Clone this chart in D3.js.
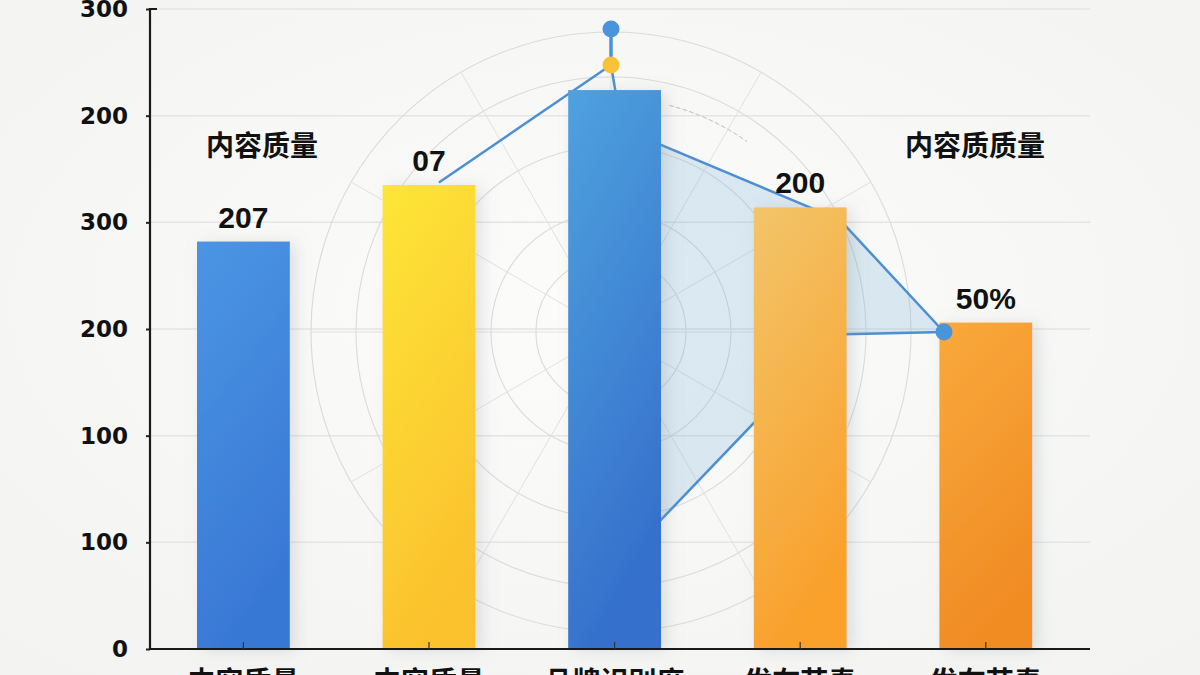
<!DOCTYPE html>
<html><head><meta charset="utf-8">
<script src="https://cdn.jsdelivr.net/npm/d3@7"></script>
<style>html,body{margin:0;padding:0;background:#f6f6f4;}svg{display:block;}</style>
</head><body>
<svg id="c" width="1200" height="675"></svg>
<script>
// ---- data ----
const categories = ["内容质量", "内容质量", "品牌识别度", "发布节奏", "发布节奏"];
const barValues = [382, 435, 524, 414, 306];
const barLabels = ["207", "07", "", "200", "50%"];
const yTickValues = [0, 100, 200, 300, 400, 500, 600];
const yTickLabels = ["0", "100", "100", "200", "300", "200", "300"];
const radarAngles = [-49, 0, 3, 64, 90, 91, 107, 180];
const radarValues = [76, 89, 68, 85, 111, 63, 62, 80];
const markerAngles = [0, 0, 90];
const markerValues = [101, 89, 111];
const gridLevels = [25, 40, 62, 85, 100];
const spokeAngles = d3.range(0, 360, 30);
const topTitle = "品牌识别度";
const sideTitles = ["内容质量", "内容质质量"];

const svg = d3.select("#c");
const W = 1200, H = 675;
const defs = svg.append("defs");

// background
const bg = defs.append("radialGradient").attr("id", "bg").attr("cx", "50%").attr("cy", "45%").attr("r", "70%");
bg.append("stop").attr("offset", "0%").attr("stop-color", "#fcfcfb");
bg.append("stop").attr("offset", "100%").attr("stop-color", "#f3f4f2");
svg.append("rect").attr("width", W).attr("height", H).attr("fill", "url(#bg)");

const x = d3.scaleBand().domain(d3.range(categories.length)).range([150.6, 1078.6]).paddingInner(0.5).paddingOuter(0.25);
const y = d3.scaleLinear().domain([0, 600]).range([649, 9]);
const axisX0 = 150, axisX1 = 1090;

// horizontal grid
svg.append("g").selectAll("line").data(yTickValues.slice(1)).join("line")
  .attr("x1", axisX0).attr("x2", axisX1).attr("y1", d => y(d)).attr("y2", d => y(d))
  .attr("stroke", "#e4e5e4").attr("stroke-width", 1.5);

// radar
const cx = 611, cy = 332;
const r = d3.scaleLinear().domain([0, 100]).range([0, 300]);
const rg = svg.append("g").attr("transform", `translate(${cx},${cy})`);
rg.selectAll("circle.g").data(gridLevels).join("circle")
  .attr("r", d => r(d)).attr("fill", "none").attr("stroke", "#dadbda").attr("stroke-width", 1.1);
rg.selectAll("line.s").data(spokeAngles).join("line")
  .attr("x1", 0).attr("y1", 0)
  .attr("x2", d => r(100) * Math.sin(d * Math.PI / 180))
  .attr("y2", d => -r(100) * Math.cos(d * Math.PI / 180))
  .attr("stroke", "#e0e1e0").attr("stroke-width", 1);
// dashed segment
rg.append("path").attr("d", d3.arc()({innerRadius: r(78), outerRadius: r(78), startAngle: 0.25, endAngle: 0.62}))
  .attr("fill", "none").attr("stroke", "#c9cbcb").attr("stroke-dasharray", "4,3");

const radarPts = radarAngles.map((a, i) => [a * Math.PI / 180, r(radarValues[i])]);
// fill (closed over the visible right-hand part) and the open outline
rg.append("path").attr("d", d3.lineRadial().curve(d3.curveLinearClosed)(radarPts.slice(2)))
  .attr("fill", "#6aaad6").attr("fill-opacity", 0.22).attr("stroke", "none");
rg.append("path").attr("d", d3.lineRadial()(radarPts))
  .attr("fill", "none").attr("stroke", "#4d8fd3").attr("stroke-width", 2.5).attr("stroke-linejoin", "round");

// bars
const barColors = [["#4b96e3", "#3978d5"], ["#fde637", "#fbc22e"], ["#4fa2de", "#3570cc"], ["#f2c56a", "#f9a12c"], ["#f9a93b", "#f08c24"]];
barColors.forEach((c, i) => {
  const g = defs.append("linearGradient").attr("id", "b" + i).attr("x1", 0).attr("y1", 0).attr("x2", 0.3).attr("y2", 1);
  g.append("stop").attr("offset", "0%").attr("stop-color", c[0]);
  g.append("stop").attr("offset", "100%").attr("stop-color", c[1]);
});
const sh = defs.append("filter").attr("id", "sh").attr("x", "-30%").attr("y", "-10%").attr("width", "160%").attr("height", "120%");
sh.append("feDropShadow").attr("dx", 6).attr("dy", 2).attr("stdDeviation", 8).attr("flood-color", "#8a8f96").attr("flood-opacity", 0.25);

svg.append("g").selectAll("rect").data(barValues).join("rect")
  .attr("x", (d, i) => x(i)).attr("width", x.bandwidth())
  .attr("y", d => y(d)).attr("height", d => y(0) - y(d))
  .attr("fill", (d, i) => `url(#b${i})`).attr("filter", "url(#sh)");

// markers
const mg = svg.append("g").attr("transform", `translate(${cx},${cy})`);
const mp = markerAngles.map((a, i) => [r(markerValues[i]) * Math.sin(a * Math.PI / 180), -r(markerValues[i]) * Math.cos(a * Math.PI / 180)]);
mg.append("line").attr("x1", mp[0][0]).attr("y1", mp[0][1]).attr("x2", mp[1][0]).attr("y2", mp[1][1])
  .attr("stroke", "#4a92d8").attr("stroke-width", 3.5);
mg.selectAll("circle").data(mp).join("circle")
  .attr("cx", d => d[0]).attr("cy", d => d[1]).attr("r", 8.5)
  .attr("fill", (d, i) => i === 1 ? "#f7c235" : "#4a94dc");

// axes
const yAxis = d3.axisLeft(y).tickValues(yTickValues).tickFormat((d, i) => yTickLabels[i]).tickSize(4).tickSizeOuter(0).tickPadding(18);
const ya = svg.append("g").attr("transform", `translate(${axisX0},0)`).call(yAxis);
ya.select(".domain").remove();
ya.selectAll(".tick line").attr("stroke", "#222").attr("stroke-width", 2);
ya.selectAll(".tick text").attr("fill", "#111").style("font-family", "DejaVu Sans").style("font-weight", "bold").style("font-size", "23px");
svg.append("path").attr("d", `M${axisX0 + 7},${y(600)}H${axisX0}V${y(0)}H${axisX1}`)
  .attr("fill", "none").attr("stroke", "#1a1a1a").attr("stroke-width", 2.2);
// x ticks
svg.append("g").selectAll("line").data(d3.range(categories.length)).join("line")
  .attr("x1", i => x(i) + x.bandwidth() / 2).attr("x2", i => x(i) + x.bandwidth() / 2)
  .attr("y1", y(0)).attr("y2", y(0) - 7).attr("stroke", "#333").attr("stroke-width", 1.2);
// x labels
svg.append("g").selectAll("text").data(categories).join("text")
  .attr("x", (d, i) => x(i) + x.bandwidth() / 2).attr("y", 692).attr("text-anchor", "middle")
  .style("font-family", "Noto Sans CJK SC").style("font-weight", "bold").style("font-size", "28px").attr("fill", "#111").text(d => d);

// bar labels
svg.append("g").selectAll("text").data(barLabels).join("text")
  .attr("x", (d, i) => x(i) + x.bandwidth() / 2).attr("y", (d, i) => y(barValues[i]) - 14)
  .attr("text-anchor", "middle").style("font-family", "Liberation Sans").style("font-weight", "bold")
  .style("font-size", "30px").attr("fill", "#111").text(d => d);

// titles
const tstyle = s => s.style("font-family", "Noto Sans CJK SC").style("font-weight", "bold").style("font-size", "28px").attr("fill", "#111").attr("text-anchor", "middle");
svg.append("text").attr("x", 611).attr("y", -3).text(topTitle).call(tstyle);
svg.append("text").attr("x", 262).attr("y", 156).text(sideTitles[0]).call(tstyle);
svg.append("text").attr("x", 975).attr("y", 156).text(sideTitles[1]).call(tstyle);
</script>
</body></html>
